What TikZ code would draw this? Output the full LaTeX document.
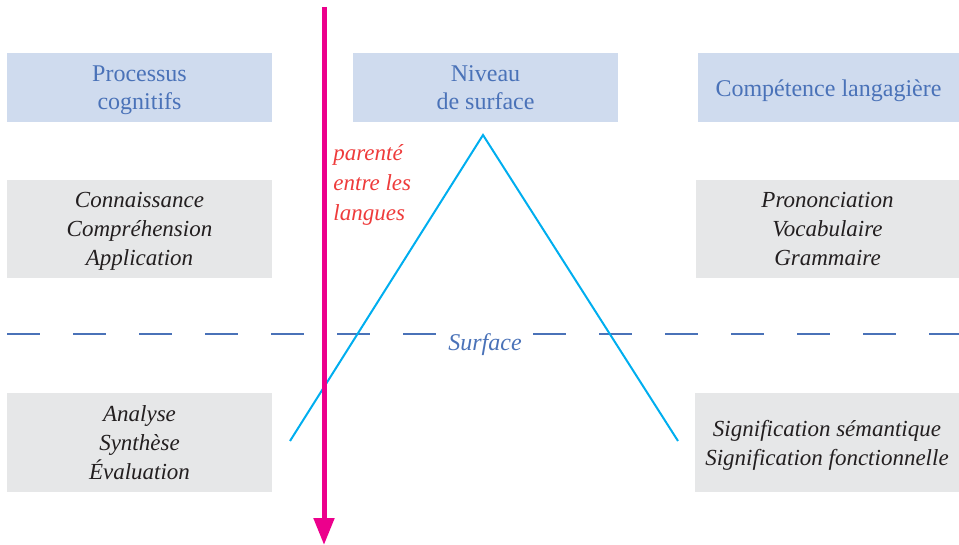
\documentclass[tikz,border=0pt]{standalone}
\usepackage{fontspec}
\setmainfont{Liberation Serif}
\usetikzlibrary{positioning,arrows.meta}
\definecolor{bloomBlueFill}{HTML}{CFDBEE}
\definecolor{bloomBlueText}{HTML}{4A72B8}
\definecolor{bloomGreyFill}{HTML}{E6E7E8}
\definecolor{bloomGreyText}{HTML}{231F20}
\definecolor{bloomCyan}{HTML}{00AEEF}
\definecolor{bloomMagenta}{HTML}{EC008C}
\definecolor{bloomRed}{HTML}{EE3B3B}

\begin{document}
\begin{tikzpicture}[
    x=0.5pt,y=-0.5pt,
    >=Triangle,
    head/.style={rectangle,fill=bloomBlueFill,inner sep=0pt,align=center,
        text=bloomBlueText,font=\fontsize{12}{14}\selectfont,text depth=0pt,
        minimum width=132.5pt,minimum height=34.5pt},
    item/.style={rectangle,fill=bloomGreyFill,inner sep=0pt,align=center,
        text=bloomGreyText,font=\fontsize{11.5}{14.5}\selectfont\itshape,text depth=0pt,
        minimum width=132.5pt,minimum height=49pt},
    one/.style={text height=9.5pt},
    two/.style={text height=22.3pt},
    three/.style={text height=36.8pt},
    apex/.style={line width=1pt,bloomCyan},
    level/.style={line width=0.6pt,bloomBlueText,dash pattern=on 16.5pt off 16.5pt},
]
\useasboundingbox (0,0) rectangle (959,545);

% === HEADINGS ===
\node[head,two] (proc) at (139.5,87.5) {Processus\\cognitifs};
\node[head,two] (niveau) at (485.5,87.5) {Niveau\\de surface};
\node[head,one,minimum width=130.5pt] (comp) at (828.5,87.5) {Compétence langagière};

% === ABOVE THE SURFACE ===
\node[item,three] (connais) at (139.5,229) {Connaissance\\Compréhension\\Application};
\node[item,three,minimum width=131.5pt] (pronon) at (827.5,229) {Prononciation\\Vocabulaire\\Grammaire};

% === BELOW THE SURFACE ===
\node[item,three,minimum height=49.5pt] (analyse) at (139.5,442.5) {Analyse\\Synthèse\\Évaluation};
\node[item,two,text height=22.8pt,minimum width=132pt,minimum height=49.5pt] (signif) at (827,442.5)
    {Signification sémantique\\Signification fonctionnelle};

% Surface line
\node[text=bloomBlueText,font=\fontsize{12}{14.3}\selectfont\itshape] (surf) at (485,345) {Surface};
\coordinate (dl1) at (7,334);
\coordinate (dl2) at (436,334);
\coordinate (dr1) at (533,334);
\coordinate (dr2) at (959,334);
\draw[level] (dl1) -- (dl2);
\draw[level] (dr1) -- (dr2);

% === ICEBERG ===
\coordinate (tipL) at (290,441);
\coordinate (tipT) at (483,135);
\coordinate (tipR) at (678,441);
\draw[apex] (tipL) -- (tipT) -- (tipR);

% === LANGUAGE KINSHIP ARROW ===
\coordinate (kinA) at (324,7);
\coordinate (kinB) at (324,545);
\draw[->,line width=2.5pt,bloomMagenta,>={Triangle[length=13.5pt,width=10pt]}] (kinA) -- (kinB);
\node[text=bloomRed,font=\fontsize{11.5}{14.8}\selectfont\itshape,align=left,anchor=west,inner sep=0pt]
    (kin) at (333,185) {parenté\\entre les\\langues};

\end{tikzpicture}
\end{document}
